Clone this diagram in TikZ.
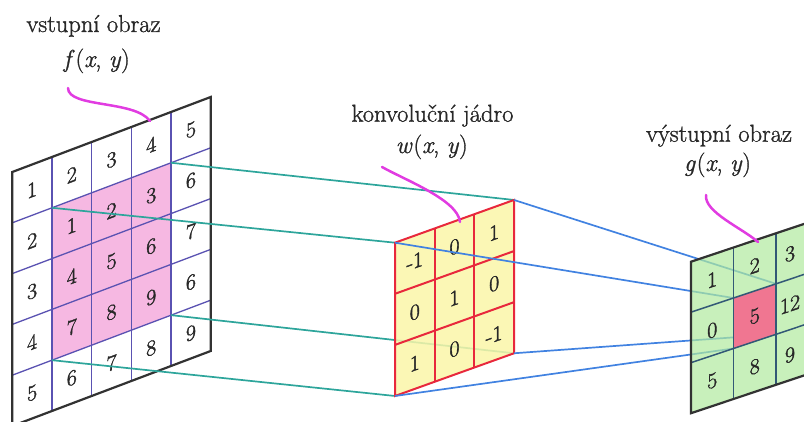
\documentclass[tikz,border=0pt]{standalone}
\usepackage{fontspec}
\newfontfamily\heavyfont{Latin Modern Roman}[FakeBold=1.2]
\newfontfamily\digitfont{Latin Modern Roman}[FakeBold=1.6]
\definecolor{pinkc}{RGB}{246,184,226}
\definecolor{gridin}{RGB}{90,82,178}
\definecolor{gridout}{RGB}{50,50,50}
\definecolor{kfill}{RGB}{250,246,168}
\definecolor{klinec}{RGB}{232,40,60}
\definecolor{gfill}{RGB}{176,234,158}
\definecolor{gcenter}{RGB}{240,118,145}
\definecolor{gin}{RGB}{50,88,118}
\definecolor{tealc}{RGB}{45,165,155}
\definecolor{bluec}{RGB}{65,130,225}
\definecolor{magc}{RGB}{225,60,225}
\definecolor{numc}{RGB}{40,40,40}
\newcommand{\fxy}[1]{\textit{#1}\kern1pt(\textit{x}, \textit{y})}
\begin{document}
\begin{tikzpicture}[x=1pt,y=1pt,
  lbl/.style={font=\heavyfont\fontsize{24.5}{29}\selectfont, inner sep=0pt, anchor=base, text=numc},
  num/.style={font=\digitfont\fontsize{22}{26}\selectfont, inner sep=0pt, transform shape, text=numc},
  inline/.style={gridin, line width=1.3pt},
  outline/.style={gridout, line width=2.2pt, line join=miter},
  kgrid/.style={klinec, line width=2pt},
  gline/.style={gin, line width=1.5pt},
  tealline/.style={tealc, line width=1.7pt},
  blueline/.style={bluec, line width=1.7pt},
  pointer/.style={magc, line width=2.5pt, line cap=round},
  leftframe/.style={shift={(12.3,250)}, yslant=0.378, x=39.7pt, y=50.8pt},
  kernframe/.style={shift={(395,179.3)}, yslant=0.359, x=39.67pt, y=51.1pt},
  outframe/.style={shift={(691,160.3)}, yslant=0.334, x=42.5pt, y=50.5pt}]
\useasboundingbox (0,0) rectangle (804,422);
\clip (0,0) rectangle (804,422);

% ---------- corner coordinates ----------
\begin{scope}[kernframe]
  \coordinate (kTL) at (0,0);
  \coordinate (kTR) at (3,0);
  \coordinate (kBR) at (3,-3);
  \coordinate (kBL) at (0,-3);
\end{scope}
\begin{scope}[outframe]
  \coordinate (cTL) at (1,-1);
  \coordinate (cTR) at (2,-1);
  \coordinate (cBR) at (2,-2);
  \coordinate (cBL) at (1,-2);
\end{scope}

% ---------- input image ----------
\begin{scope}[leftframe]
  \fill[white] (0,0) -- (5,0) -- (5,-5) -- (0,-5) -- cycle;
  \fill[pinkc] (1,-1) -- (4,-1) -- (4,-4) -- (1,-4) -- cycle;
  \foreach \i in {1,...,4} {
    \draw[inline] (\i,0) -- (\i,-5);
    \draw[inline] (0,-\i) -- (5,-\i);
  }
  \draw[outline] (0,0) -- (5,0) -- (5,-5) -- (0,-5) -- cycle;
  \coordinate (pTL) at (1,-1);
  \coordinate (pTR) at (4,-1);
  \coordinate (pBR) at (4,-4);
  \coordinate (pBL) at (1,-4);
  \foreach \row [count=\r from 0] in {{1,2,3,4,5},{2,1,2,3,6},{3,4,5,6,7},{4,7,8,9,6},{5,6,7,8,9}} {
    \foreach \v [count=\c from 0] in \row {
      \node[num] (L-\r-\c) at (\c+0.5,-\r-0.5) {\v};
    }
  }
\end{scope}

% ---------- teal connectors ----------
\draw[tealline] (pTR) -- (kTR);
\draw[tealline] (pTL) -- (kTL);
\draw[tealline] (pBR) -- (kBR);
\draw[tealline] (pBL) -- (kBL);

% ---------- kernel ----------
\begin{scope}[kernframe]
  \fill[kfill, fill opacity=0.85] (0,0) -- (3,0) -- (3,-3) -- (0,-3) -- cycle;
  \foreach \i in {1,2} {
    \draw[kgrid] (\i,0) -- (\i,-3);
    \draw[kgrid] (0,-\i) -- (3,-\i);
  }
  \draw[kgrid, line join=miter] (0,0) -- (3,0) -- (3,-3) -- (0,-3) -- cycle;
  \foreach \row [count=\r from 0] in {{-1,0,1},{0,1,0},{1,0,-1}} {
    \foreach \v [count=\c from 0] in \row {
      \node[num] (K-\r-\c) at (\c+0.5,-\r-0.5) {\v};
    }
  }
\end{scope}

% ---------- blue connectors ----------
\draw[blueline] (kTR) -- (cTR);
\draw[blueline] (kTL) -- (cTL);
\draw[blueline] (kBR) -- (cBR);
\draw[blueline] (kBL) -- (cBL);

% ---------- output image ----------
\begin{scope}[outframe]
  \fill[gfill, fill opacity=0.7] (0,0) -- (3,0) -- (3,-3) -- (0,-3) -- cycle;
  \fill[gcenter] (1,-1) -- (2,-1) -- (2,-2) -- (1,-2) -- cycle;
  \foreach \i in {1,2} {
    \draw[gline] (\i,0) -- (\i,-3);
    \draw[gline] (0,-\i) -- (3,-\i);
  }
  \draw[outline] (0,0) -- (3,0) -- (3,-3) -- (0,-3) -- cycle;
  \foreach \row [count=\r from 0] in {{1,2,3},{0,5,12},{5,8,9}} {
    \foreach \v [count=\c from 0] in \row {
      \pgfmathsetmacro{\cx}{\c==2 ? 2.33 : \c+0.5}
      \node[num] (G-\r-\c) at (\cx,-\r-0.5) {\v};
    }
  }
\end{scope}

% ---------- labels ----------
\node[lbl] (lin) at (93.5,390) {vstupní obraz};
\node[lbl] (lf) at (96.7,355) {\fxy{f}};
\node[lbl] (lker) at (432.5,300.3) {konvoluční jádro};
\node[lbl] (lw) at (431.7,269) {\fxy{w}};
\node[lbl] (lout) at (719,280.3) {výstupní obraz};
\node[lbl] (lg) at (717.5,251) {\fxy{g}};

% ---------- pointers ----------
\coordinate (a1) at (68,334);
\coordinate (a2) at (382,255);
\coordinate (a3) at (706,227);
\coordinate (b1) at (150,301);
\coordinate (b2) at (460,200);
\coordinate (b3) at (758,180);
\draw[pointer] (a1) .. controls (68,314) and (135,322) .. (b1);
\draw[pointer] (a2) .. controls (405,242) and (458,222) .. (b2);
\draw[pointer] (a3) .. controls (704,210) and (742,194) .. (b3);
\end{tikzpicture}
\end{document}
